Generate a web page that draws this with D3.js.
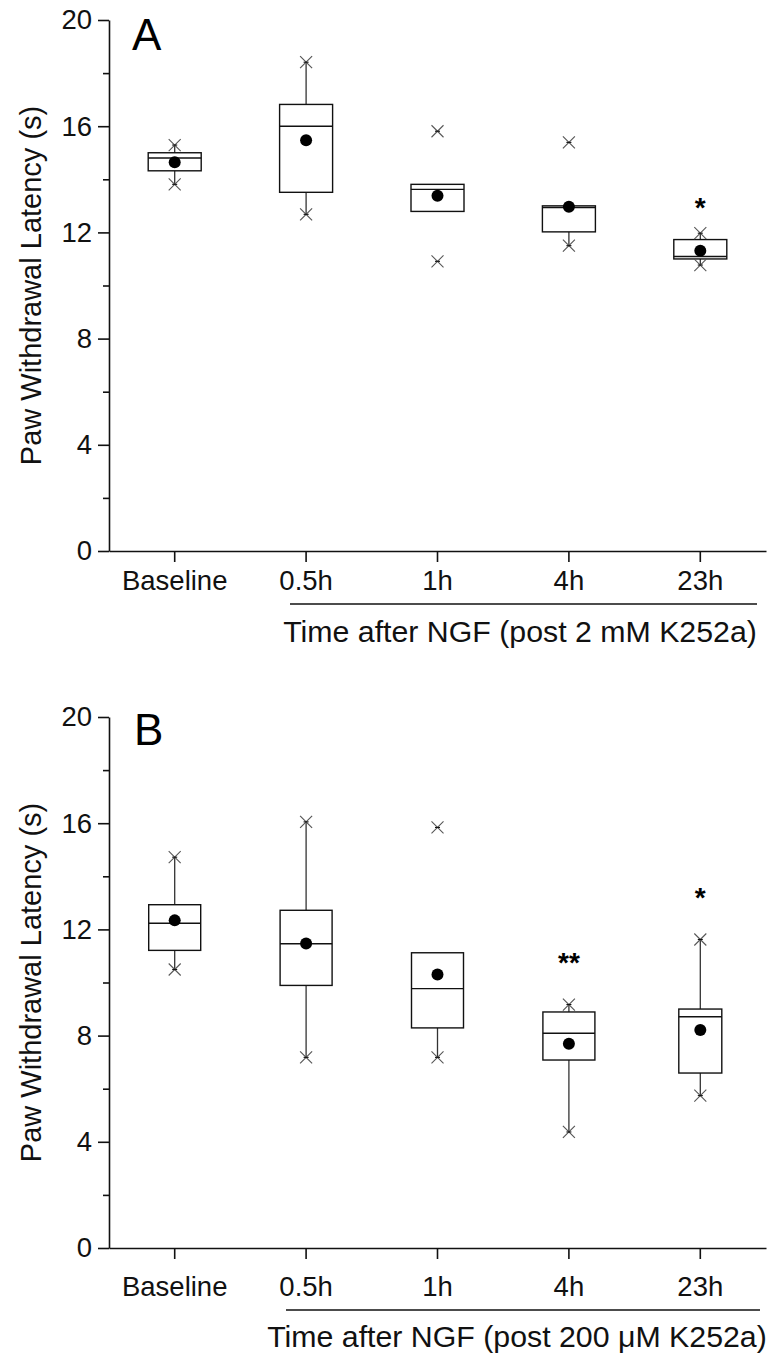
<!DOCTYPE html>
<html>
<head>
<meta charset="utf-8">
<script src="https://cdn.jsdelivr.net/npm/d3@7"></script>
<style>
  body { margin: 0; background: #fff; }
  text { font-family: "Liberation Sans", Arial, sans-serif; }
</style>
</head>
<body>
<svg id="chart" width="773" height="1353"></svg>
<script>
// categories shared by both panels
const categories = ["Baseline", "0.5h", "1h", "4h", "23h"];
const yTicks = [0, 4, 8, 12, 16, 20];
const yMinorTicks = [2, 6, 10, 14, 18];

// panel A (post 2 mM K252a)
const q1A = [14.32, 13.51, 12.79, 12.02, 11.0];
const medianA = [14.8, 16.0, 13.62, 12.94, 11.09];
const q3A = [15.0, 16.82, 13.81, 13.0, 11.73];
const meanA = [14.64, 15.47, 13.38, 12.97, 11.31];
const whiskerLoA = [13.81, 12.68, 12.79, 11.5, 10.77];
const whiskerHiA = [15.29, 18.41, 13.81, 13.0, 11.97];
const minA = [13.81, 12.68, 10.91, 11.5, 10.77];
const maxA = [15.29, 18.41, 15.81, 15.39, 11.97];
const sigA = ["", "", "", "", "*"];
const sigAtA = [0, 0, 0, 0, 13.2];

// panel B (post 200 µM K252a)
const q1B = [11.21, 9.89, 8.29, 7.08, 6.59];
const medianB = [12.23, 11.46, 9.77, 8.09, 8.71];
const q3B = [12.93, 12.72, 11.12, 8.89, 9.0];
const meanB = [12.34, 11.47, 10.3, 7.69, 8.21];
const whiskerLoB = [10.49, 7.18, 7.18, 4.37, 5.74];
const whiskerHiB = [14.72, 16.05, 11.12, 9.17, 11.62];
const minB = [10.49, 7.18, 7.18, 4.37, 5.74];
const maxB = [14.72, 16.05, 15.84, 9.17, 11.62];
const sigB = ["", "", "", "**", "*"];
const sigAtB = [0, 0, 0, 11.0, 13.45];

const svg = d3.select("#chart");
const left = 109, right = 766;

function rows(q1, med, q3, mean, wlo, whi, mn, mx, sig, sigAt) {
  return categories.map((c, i) => ({
    cat: c, q1: q1[i], med: med[i], q3: q3[i], mean: mean[i],
    wlo: wlo[i], whi: whi[i], min: mn[i], max: mx[i], sig: sig[i], sigAt: sigAt[i]
  }));
}

function drawPanel(cfg) {
  const g = svg.append("g");
  const x = d3.scaleBand().domain(categories).range([left, right]);
  const y = d3.scaleLinear().domain([0, 20]).range([cfg.bottom, cfg.top]);
  const cx = d => x(d.cat) + x.bandwidth() / 2;

  // y axis
  const ya = g.append("g").attr("transform", `translate(${left},0)`)
    .call(d3.axisLeft(y).tickValues(yTicks).tickSize(11).tickSizeOuter(0).tickPadding(6));
  ya.append("g").call(d3.axisLeft(y).tickValues(yMinorTicks).tickSize(6).tickFormat(""))
    .select(".domain").remove();

  // x axis
  g.append("g").attr("transform", `translate(0,${cfg.bottom})`)
    .call(d3.axisBottom(x).tickSize(11).tickSizeOuter(0).tickPadding(cfg.tickPad));

  g.selectAll(".domain, .tick line").attr("stroke", "#111").attr("stroke-width", 1.6);
  g.selectAll(".tick text").attr("font-size", 27.5).attr("fill", "#111")
    .attr("font-family", "Liberation Sans, Arial, sans-serif");

  // y label
  g.append("text")
    .attr("transform", `translate(${cfg.labelX},${(cfg.top + cfg.bottom) / 2}) rotate(-90)`)
    .attr("text-anchor", "middle").attr("font-size", 29).attr("fill", "#111")
    .text("Paw Withdrawal Latency (s)");

  // panel letter
  g.append("text").attr("x", cfg.letterX).attr("y", cfg.letterY)
    .attr("font-size", 44).attr("fill", "#000").text(cfg.letter);

  // group underline and caption
  g.append("line").attr("x1", cfg.lineX1).attr("x2", cfg.lineX2)
    .attr("y1", cfg.lineY).attr("y2", cfg.lineY).attr("stroke", "#111").attr("stroke-width", 1.6);
  g.append("text").attr("x", cfg.captionX).attr("y", cfg.captionY)
    .attr("text-anchor", "middle").attr("font-size", 30.3).attr("fill", "#111")
    .text(cfg.caption);

  const boxes = g.selectAll(".bx").data(cfg.data).join("g").attr("class", "bx");

  // whiskers
  boxes.append("line").attr("x1", cx).attr("x2", cx)
    .attr("y1", d => y(d.q3)).attr("y2", d => y(d.whi))
    .attr("stroke", "#333").attr("stroke-width", 1.3);
  boxes.append("line").attr("x1", cx).attr("x2", cx)
    .attr("y1", d => y(d.q1)).attr("y2", d => y(d.wlo))
    .attr("stroke", "#333").attr("stroke-width", 1.3);

  // box
  boxes.append("rect")
    .attr("x", (d, i) => cx(d) - cfg.widths[i] / 2)
    .attr("width", (d, i) => cfg.widths[i])
    .attr("y", d => y(d.q3)).attr("height", d => y(d.q1) - y(d.q3))
    .attr("fill", "#fff").attr("stroke", "#111").attr("stroke-width", 1.4);
  boxes.append("line")
    .attr("x1", (d, i) => cx(d) - cfg.widths[i] / 2)
    .attr("x2", (d, i) => cx(d) + cfg.widths[i] / 2)
    .attr("y1", d => y(d.med)).attr("y2", d => y(d.med))
    .attr("stroke", "#111").attr("stroke-width", 1.4);

  // min / max markers
  const marks = cfg.data.flatMap(d => [{ x: cx(d), v: d.min }, { x: cx(d), v: d.max }]);
  const m = g.selectAll(".mk").data(marks).join("g").attr("class", "mk")
    .attr("transform", d => `translate(${d.x},${y(d.v)})`)
    .attr("stroke", "#555").attr("stroke-width", 1.1);
  m.append("line").attr("x1", -6).attr("y1", -6).attr("x2", 6).attr("y2", 6);
  m.append("line").attr("x1", -6).attr("y1", 6).attr("x2", 6).attr("y2", -6);
  m.append("line").attr("x1", -2.5).attr("y1", 0).attr("x2", 2.5).attr("y2", 0).attr("stroke", "#111");

  // mean dots
  boxes.append("circle").attr("cx", cx).attr("cy", d => y(d.mean)).attr("r", 6).attr("fill", "#000");

  // significance
  boxes.filter(d => d.sig).append("text")
    .attr("x", cx).attr("y", d => y(d.sigAt) + 16)
    .attr("text-anchor", "middle").attr("font-size", 28).attr("font-weight", "bold")
    .attr("fill", "#000").text(d => d.sig);
}

drawPanel({
  top: 20, bottom: 551, tickPad: 8, labelX: 41,
  letter: "A", letterX: 132, letterY: 50,
  lineX1: 290, lineX2: 757, lineY: 604,
  caption: "Time after NGF (post 2 mM K252a)", captionX: 520, captionY: 642,
  widths: [53, 53, 53, 53, 53],
  data: rows(q1A, medianA, q3A, meanA, whiskerLoA, whiskerHiA, minA, maxA, sigA, sigAtA)
});

drawPanel({
  top: 717, bottom: 1248, tickPad: 17, labelX: 41,
  letter: "B", letterX: 134, letterY: 745,
  lineX1: 286, lineX2: 760, lineY: 1310,
  caption: "Time after NGF (post 200 \u03BCM K252a)", captionX: 517, captionY: 1347,
  widths: [52, 52, 52, 52, 43],
  data: rows(q1B, medianB, q3B, meanB, whiskerLoB, whiskerHiB, minB, maxB, sigB, sigAtB)
});
</script>
</body>
</html>
